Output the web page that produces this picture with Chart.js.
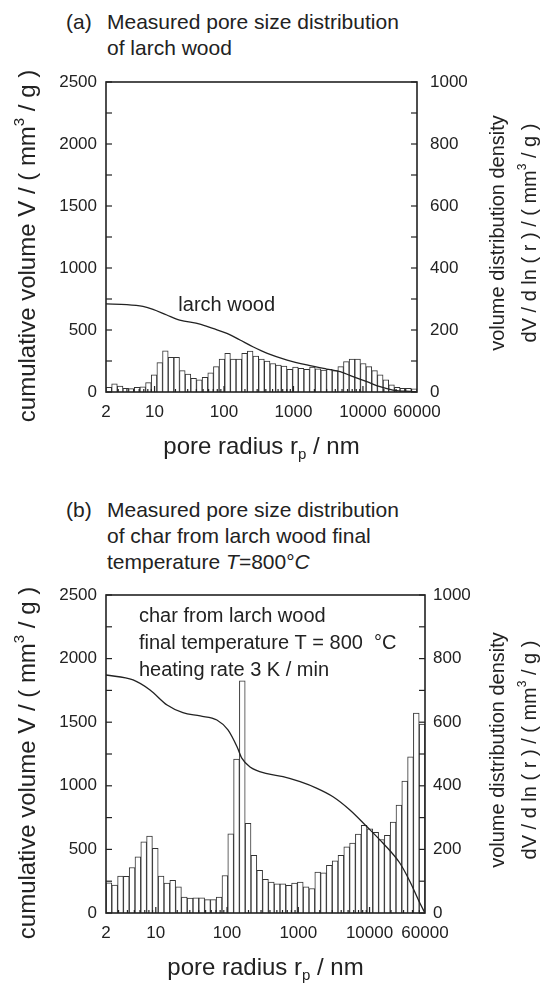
<!DOCTYPE html>
<html>
<head>
<meta charset="utf-8">
<script src="https://cdn.jsdelivr.net/npm/chart.js@4.4.1/dist/chart.umd.min.js"></script>
<style>
  html, body { margin: 0; padding: 0; background: #fff; }
  body { width: 542px; height: 983px; position: relative; overflow: hidden;
         font-family: "Liberation Sans", Arial, sans-serif; color: #222; }
  canvas { position: absolute; left: 0; }
  .head { position: absolute; font-size: 21px; line-height: 26px; white-space: nowrap; }
</style>
</head>
<body>
<div class="head" style="left:66px;top:9px">(a)</div>
<div class="head" style="left:107px;top:9px">Measured pore size distribution<br>of larch wood</div>

<div class="head" style="left:66px;top:497px">(b)</div>
<div class="head" style="left:107px;top:497px">Measured pore size distribution<br>of char from larch wood final<br>temperature <i>T</i>=800°<i>C</i></div>

<canvas id="chartA" width="542" height="480" style="top:0"></canvas>
<canvas id="chartB" width="542" height="503" style="top:480px"></canvas>

<script>
// ---- data -------------------------------------------------------------
// x-axis labels (pore radius, nm)
const radiusTicks = [2, 10, 100, 1000, 10000, 60000];

// (a) larch wood: cumulative pore volume curve
const radiusA     = [2, 4, 6.8, 9.5, 15, 23, 45, 69, 110, 170, 260, 420, 810, 1560, 3000, 4700, 7200, 11400, 17600, 27000, 52600, 60000];
const cumulativeA = [710, 705, 690, 667, 621, 580, 548, 513, 473, 419, 365, 312, 258, 218, 185, 164, 124, 83, 43, 16, 3, 0];
// (a) larch wood: volume distribution density, one bar per log-spaced bin
const densityA = [15, 26, 19, 12, 11, 15, 17, 30, 55, 95,
                  133, 112, 112, 69, 58, 44, 39, 47, 62, 82,
                  106, 125, 106, 106, 125, 132, 116, 106, 100, 92,
                  87, 84, 73, 80, 76, 73, 80, 75, 71, 73,
                  69, 82, 98, 106, 106, 92, 82, 69, 55, 39,
                  23, 15, 12, 12, 10];

// (b) char, final temperature 800 °C: cumulative pore volume curve
const radiusB     = [2, 4.8, 8.3, 14.4, 24, 42, 72, 103, 138, 162, 210, 364, 610, 1060, 1830, 3070, 5300, 9200, 15500, 26700, 37000, 51000, 60000];
const cumulativeB = [1871, 1832, 1753, 1635, 1575, 1549, 1517, 1439, 1307, 1215, 1148, 1095, 1072, 1032, 980, 914, 810, 678, 548, 391, 246, 76, 0];
// (b) char: volume distribution density
const densityB = [95, 88, 116, 115, 143, 177, 224, 242, 203, 116,
                  94, 103, 82, 50, 47, 48, 48, 42, 42, 50,
                  118, 249, 484, 730, 282, 181, 134, 106, 97, 92,
                  92, 87, 94, 97, 82, 77, 129, 126, 150, 164,
                  181, 208, 220, 248, 276, 265, 254, 231, 244, 286,
                  339, 415, 491, 629, 594];

// ---- drawing helpers --------------------------------------------------
const FONT = '"Liberation Sans", Arial, sans-serif';
const INK = '#222';

// draws a line of text made of runs (plain / sub / sup), centred at (cx, cy)
function drawRuns(ctx, runs, cx, cy, angle, size) {
  const small = Math.round(size * 0.62);
  const fontOf = r => `${(r.sub || r.sup) ? small : size}px ${FONT}`;
  let total = 0;
  const widths = runs.map(r => { ctx.font = fontOf(r); const w = ctx.measureText(r.t).width; total += w; return w; });
  ctx.save();
  ctx.translate(cx, cy);
  ctx.rotate(angle);
  ctx.textBaseline = 'middle';
  ctx.textAlign = 'left';
  ctx.fillStyle = INK;
  let x = -total / 2;
  runs.forEach((r, i) => {
    ctx.font = fontOf(r);
    const dy = r.sub ? size * 0.32 : r.sup ? -size * 0.36 : 0;
    ctx.fillText(r.t, x, dy);
    x += widths[i];
  });
  ctx.restore();
}

// frame, inward tick marks, axis titles and in-plot notes
function makeFrame(cfg) {
  return {
    id: 'frame',
    afterDatasetsDraw(chart) {
      const { ctx, chartArea: a, scales } = chart;
      ctx.save();
      ctx.strokeStyle = INK;
      ctx.lineWidth = 1.2;
      const seg = (x1, y1, x2, y2) => { ctx.beginPath(); ctx.moveTo(x1, y1); ctx.lineTo(x2, y2); ctx.stroke(); };
      scales.y.ticks.forEach(t => { const p = scales.y.getPixelForValue(t.value); seg(a.left, p, a.left + 6, p); });
      scales.yR.ticks.forEach(t => { const p = scales.yR.getPixelForValue(t.value); seg(a.right - 6, p, a.right, p); });
      for (let d = 1; d <= 10000; d *= 10) {
        for (let m = 1; m <= 9; m++) {
          const v = m * d;
          if (v <= 2 || v >= 60000) continue;
          const p = scales.x.getPixelForValue(v);
          seg(p, a.bottom, p, a.bottom - (m === 1 ? 6 : 3));
        }
      }
      ctx.lineWidth = 1.6;
      ctx.strokeRect(a.left, a.top, a.right - a.left, a.bottom - a.top);

      const midY = (a.top + a.bottom) / 2;
      drawRuns(ctx, [{ t: 'pore radius r' }, { t: 'p', sub: true }, { t: ' / nm' }],
               (a.left + a.right) / 2, a.bottom + 55, 0, 24);
      drawRuns(ctx, [{ t: 'cumulative volume V / ( mm' }, { t: '3', sup: true }, { t: ' / g )' }],
               28, midY + 9, -Math.PI / 2, 24);
      drawRuns(ctx, [{ t: 'volume distribution density' }], 498, midY - 4, -Math.PI / 2, 20);
      drawRuns(ctx, [{ t: 'dV / d ln ( r ) / ( mm' }, { t: '3', sup: true }, { t: ' / g )' }],
               530, midY - 4, -Math.PI / 2, 20);

      ctx.fillStyle = INK;
      ctx.font = `20px ${FONT}`;
      ctx.textAlign = 'left';
      ctx.textBaseline = 'middle';
      cfg.notes.forEach(n => ctx.fillText(n.text, scales.x.getPixelForValue(n.r), scales.y.getPixelForValue(n.v)));
      ctx.restore();
    }
  };
}

function buildChart(id, box, radius, cumulative, density, notes) {
  const tickFont = { family: FONT, size: 17 };
  return new Chart(document.getElementById(id), {
    type: 'bar',
    data: {
      labels: density.map((_, i) => i + 1),
      datasets: [
        {
          type: 'line',
          data: radius.map((r, i) => ({ x: r, y: cumulative[i] })),
          xAxisID: 'x', yAxisID: 'y',
          borderColor: INK, borderWidth: 1.3, pointRadius: 0,
          cubicInterpolationMode: 'monotone', fill: false, order: 0
        },
        {
          type: 'bar',
          data: density,
          xAxisID: 'xb', yAxisID: 'yR',
          backgroundColor: '#fff', borderColor: '#333', borderWidth: 1,
          barPercentage: 1, categoryPercentage: 1, grouped: false, order: 1
        }
      ]
    },
    options: {
      responsive: false, animation: false, events: [],
      datasets: { bar: { barPercentage: 1, categoryPercentage: 1 } },
      layout: { padding: { top: box.top, left: 0, right: 0, bottom: 0 } },
      plugins: { legend: { display: false }, tooltip: { enabled: false } },
      scales: {
        x: {
          type: 'logarithmic', position: 'bottom', min: 2, max: 60000, offset: false,
          grid: { display: false, drawTicks: false, offset: false }, border: { display: false },
          afterBuildTicks: s => { s.ticks = radiusTicks.map(v => ({ value: v })); },
          afterFit: s => { s.height = box.canvasH - box.bottom; },
          ticks: { autoSkip: false, maxRotation: 0, minRotation: 0, padding: 10,
                   color: INK, font: tickFont, callback: v => String(v) }
        },
        xb: {
          type: 'category', display: false, offset: true, grid: { offset: true },
          ticks: { autoSkip: false }
        },
        y: {
          type: 'linear', position: 'left', min: 0, max: 2500,
          grid: { display: false, drawTicks: false }, border: { display: false },
          afterFit: s => { s.width = box.left; },
          ticks: { stepSize: 250, autoSkip: false, padding: 9, color: INK, font: tickFont,
                   callback: v => (v % 500 === 0 ? String(v) : '') }
        },
        yR: {
          type: 'linear', position: 'right', min: 0, max: 1000,
          grid: { display: false, drawTicks: false }, border: { display: false },
          afterFit: s => { s.width = 542 - box.right; },
          ticks: { stepSize: 100, autoSkip: false, padding: box.rightPad, color: INK, font: tickFont,
                   callback: v => (v % 200 === 0 ? String(v) : '') }
        }
      }
    },
    plugins: [makeFrame({ notes })]
  });
}

buildChart('chartA', { top: 82, bottom: 392, left: 106, right: 417, canvasH: 480, rightPad: 13 },
           radiusA, cumulativeA, densityA,
           [{ text: 'larch wood', r: 22, v: 700 }]);

buildChart('chartB', { top: 115, bottom: 433, left: 106, right: 425, canvasH: 503, rightPad: 8 },
           radiusB, cumulativeB, densityB,
           [{ text: 'char from larch wood', r: 5.8, v: 2330 },
            { text: 'final temperature T = 800  °C', r: 5.8, v: 2120 },
            { text: 'heating rate 3 K / min', r: 5.8, v: 1910 }]);
</script>
</body>
</html>
